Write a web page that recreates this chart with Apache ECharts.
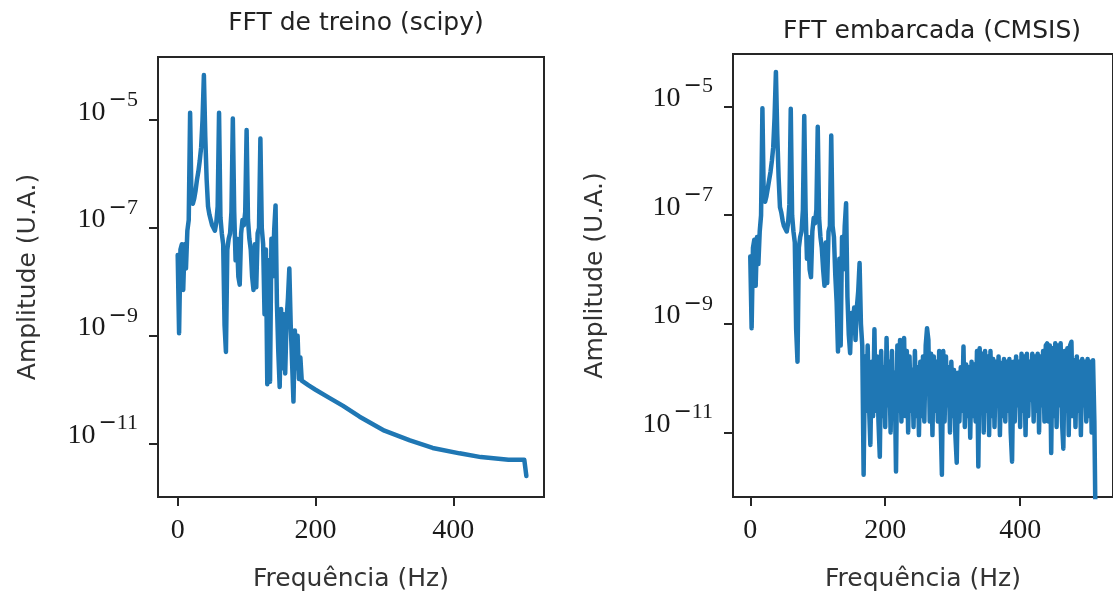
<!DOCTYPE html>
<html>
<head>
<meta charset="utf-8">
<script src="https://cdn.jsdelivr.net/npm/echarts@6/dist/echarts.min.js"></script>
<style>
  html, body { margin: 0; padding: 0; background: #ffffff; }
  #chart { width: 1113px; height: 597px; }
</style>
</head>
<body>
<div id="chart"></div>
<script>
// Spectra are stored as log10(amplitude) so the decades read directly.

// Training-side FFT (scipy): dense bins up to 180 Hz, then the smooth roll-off.
const treinoFreqHz = [
  0, 2, 4, 6, 8, 10, 12, 14, 16, 18,
  20, 22, 24, 26, 28, 30, 32, 34, 36, 38,
  40, 42, 44, 46, 48, 50, 52, 54, 56, 58,
  60, 62, 64, 66, 68, 70, 72, 74, 76, 78,
  80, 82, 84, 86, 88, 90, 92, 94, 96, 98,
  100, 102, 104, 106, 108, 110, 112, 114, 116, 118,
  120, 122, 124, 126, 128, 130, 132, 134, 136, 138,
  140, 142, 144, 146, 148, 150, 152, 154, 156, 158,
  160, 162, 164, 166, 168, 170, 172, 174, 176, 178,
  180, 190, 200, 220, 240, 264, 300, 337, 370, 409, 440, 480, 503, 506
];
const treinoLogAmp = [
  -7.50, -8.95, -7.40, -7.30, -8.15, -7.30, -7.75, -7.05, -6.85, -4.86,
  -6.50, -6.55, -6.45, -6.30, -6.10, -5.95, -5.75, -5.50, -5.00, -4.16,
  -5.30, -6.10, -6.60, -6.75, -6.85, -6.95, -7.00, -7.05, -6.90, -6.60,
  -4.86, -6.80, -7.10, -7.30, -8.80, -9.30, -7.40, -7.20, -7.10, -6.70,
  -4.97, -6.70, -7.60, -7.20, -7.90, -8.05, -7.10, -6.85, -6.95, -6.70,
  -5.18, -6.85, -7.20, -7.40, -7.90, -8.15, -7.30, -8.10, -7.10, -7.00,
  -5.34, -7.00, -7.30, -8.60, -7.40, -9.90, -7.60, -9.85, -7.20, -7.90,
  -7.05, -6.58, -8.40, -9.30, -9.95, -8.50, -9.60, -8.60, -9.70, -8.70,
  -8.30, -7.75, -8.80, -9.50, -10.22, -8.90, -9.60, -9.00, -9.80, -9.40,
  -9.83, -9.92, -10.00, -10.15, -10.30, -10.50, -10.76, -10.94, -11.08, -11.18, -11.25, -11.30, -11.30, -11.60
];

// Embedded FFT (CMSIS): one value per 2 Hz bin, 0 … 512 Hz.
const CMSIS_BIN_HZ = 2;
const cmsisLogAmp = [
  -7.76, -9.08, -7.60, -7.45, -8.30, -7.40, -7.90, -7.30, -7.00, -5.03,   // 0–18
  -6.70, -6.75, -6.65, -6.50, -6.35, -6.20, -6.00, -5.75, -5.20, -4.36,   // 20–38
  -5.50, -6.30, -6.85, -6.95, -7.10, -7.20, -7.25, -7.30, -7.15, -6.80,   // 40–58
  -5.04, -7.00, -7.30, -7.50, -9.10, -9.70, -7.60, -7.40, -7.30, -6.90,   // 60–78
  -5.17, -6.90, -7.80, -7.40, -8.00, -8.14, -7.30, -7.05, -7.15, -6.90,   // 80–98
  -5.37, -7.05, -7.40, -7.60, -8.00, -8.30, -7.50, -8.25, -7.30, -7.20,   // 100–118
  -5.53, -7.20, -7.40, -8.10, -8.60, -9.51, -7.80, -9.40, -7.40, -8.00,   // 120–138
  -7.20, -6.78, -8.50, -9.20, -9.54, -8.80, -9.10, -8.70, -9.30, -8.70,   // 140–158
  -8.40, -7.88, -9.00, -9.40, -11.78, -9.60, -10.60, -9.40, -10.50, -11.23, // 160–178
  -9.70, -10.70, -9.10, -10.60, -9.60, -10.80, -11.45, -9.50, -10.70, -9.80, // 180–198
  -10.90, -9.26, -10.50, -9.70, -11.00, -9.50, -10.70, -9.90, -11.72, -9.40, // 200–218
  -10.60, -9.30, -10.80, -9.60, -9.26, -10.70, -9.50, -11.00, -9.60, -10.60, // 220–238
  -9.85, -10.90, -9.50, -10.70, -9.80, -11.05, -9.70, -10.70, -9.60, -10.80, // 240–258
  -9.40, -9.08, -9.30, -10.80, -9.55, -11.05, -9.60, -10.60, -9.70, -10.80,  // 260–278
  -9.50, -10.70, -11.78, -9.50, -10.80, -9.60, -10.50, -9.80, -11.00, -9.70, // 280–298
  -10.70, -9.85, -11.05, -11.56, -9.90, -10.80, -9.80, -10.60, -9.42, -10.90, // 300–318
  -9.75, -10.70, -9.80, -11.10, -9.70, -10.70, -9.75, -10.80, -9.50, -11.63, // 320–338
  -9.45, -10.60, -9.55, -11.00, -9.50, -10.60, -9.60, -11.05, -9.50, -10.70, // 340–358
  -9.65, -10.90, -9.70, -10.50, -9.60, -11.05, -9.72, -10.70, -9.65, -10.80, // 360–378
  -9.70, -10.60, -9.65, -11.00, -11.54, -9.70, -10.80, -9.60, -10.50, -9.70, // 380–398
  -10.90, -9.55, -10.60, -9.60, -11.05, -9.55, -10.70, -9.70, -10.40, -9.55, // 400–418
  -10.80, -9.60, -10.60, -9.55, -11.00, -9.60, -10.50, -9.50, -10.80, -9.40, // 420–438
  -9.36, -10.80, -9.40, -11.38, -9.45, -10.70, -9.36, -10.90, -9.40, -10.50, // 440–458
  -9.36, -10.80, -11.30, -9.50, -10.60, -9.45, -11.05, -9.40, -9.33, -10.70, // 460–478
  -9.67, -10.90, -9.60, -10.60, -9.70, -11.05, -9.65, -10.50, -9.70, -10.80, // 480–498
  -9.65, -10.70, -9.70, -11.00, -9.67, -10.80,                               // 500–510
  -13.00                                                                     // 512
];

const titles = ['FFT de treino (scipy)', 'FFT embarcada (CMSIS)'];
const xTickHz = [0, 200, 400];
const yTickDecades = [-11, -9, -7, -5];
const xAxisName = 'Frequência (Hz)';
const yAxisName = 'Amplitude (U.A.)';

const LINE_COLOR = '#1f77b4';
const SANS = "'DejaVu Sans', sans-serif";
const SERIF = "'Liberation Serif', 'DejaVu Serif', serif";
const TICK_TEXT = '#1a1a1a';

const treinoData = treinoFreqHz.map((f, i) => [f, treinoLogAmp[i]]);
const cmsisData = cmsisLogAmp.map((v, i) => [i * CMSIS_BIN_HZ, v]);

// Panel geometry (pixels) and visible ranges.
const panels = [
  { left: 158, top: 57, width: 386, height: 443, xMin: -28.6, xMax: 531.6, yMin: -11.99, yMax: -3.827, nameGapY: 117 },
  { left: 733, top: 54, width: 388, height: 443, xMin: -25.6, xMax: 537.6, yMin: -12.19, yMax: -4.03, nameGapY: 125 }
];

// Decade label 10^n: mantissa, a wide minus and the raised exponent digits.
const powerLabel = v => '{m|10}{n|\u2212}{e|' + Math.abs(Math.round(v)) + '}';

const chart = echarts.init(document.getElementById('chart'), null, { renderer: 'canvas' });

chart.setOption({
  animation: false,
  backgroundColor: '#ffffff',
  title: panels.map((p, i) => ({
    text: titles[i],
    left: p.left + p.width / 2,
    top: i === 0 ? 6 : 14,
    textAlign: 'center',
    textStyle: { fontFamily: SANS, fontSize: 25, fontWeight: 'normal', color: '#222222' }
  })),
  grid: panels.map(p => ({
    left: p.left, top: p.top, width: p.width, height: p.height,
    show: true, borderColor: '#262626', borderWidth: 2, backgroundColor: 'transparent'
  })),
  xAxis: panels.map((p, i) => ({
    type: 'value',
    gridIndex: i,
    min: p.xMin,
    max: p.xMax,
    name: xAxisName,
    nameLocation: 'middle',
    nameGap: 70,
    nameTextStyle: { fontFamily: SANS, fontSize: 25, color: '#333333' },
    axisLine: { show: false, onZero: false },
    splitLine: { show: false },
    axisTick: { show: true, inside: false, length: 9, customValues: xTickHz, lineStyle: { color: '#262626', width: 2 } },
    axisLabel: {
      customValues: xTickHz,
      margin: 20,
      fontFamily: SERIF, fontSize: 28, color: TICK_TEXT,
      formatter: v => String(v)
    }
  })),
  yAxis: panels.map((p, i) => ({
    type: 'value',
    gridIndex: i,
    min: p.yMin,
    max: p.yMax,
    name: yAxisName,
    nameLocation: 'middle',
    nameGap: p.nameGapY,
    nameTextStyle: { fontFamily: SANS, fontSize: 25, color: '#333333' },
    axisLine: { show: false, onZero: false },
    splitLine: { show: false },
    axisTick: { show: true, inside: false, length: 9, customValues: yTickDecades, lineStyle: { color: '#262626', width: 2 } },
    axisLabel: {
      customValues: yTickDecades,
      margin: 20,
      formatter: powerLabel,
      rich: {
        m: { fontFamily: SERIF, fontSize: 28, lineHeight: 28, color: TICK_TEXT, verticalAlign: 'middle', padding: [0, 0, 16, 0] },
        n: { fontFamily: SANS, fontSize: 22, lineHeight: 22, color: TICK_TEXT, verticalAlign: 'middle', padding: [0, 0, 40, 3] },
        e: { fontFamily: SERIF, fontSize: 22, lineHeight: 22, color: TICK_TEXT, verticalAlign: 'middle', padding: [0, 0, 40, 0] }
      }
    }
  })),
  series: [
    {
      type: 'line', xAxisIndex: 0, yAxisIndex: 0, data: treinoData,
      showSymbol: false, clip: true,
      lineStyle: { color: LINE_COLOR, width: 4.5, join: 'round', cap: 'round' }
    },
    {
      type: 'line', xAxisIndex: 1, yAxisIndex: 1, data: cmsisData,
      showSymbol: false, clip: true,
      lineStyle: { color: LINE_COLOR, width: 4.5, join: 'round', cap: 'round' }
    }
  ]
});
</script>
</body>
</html>
